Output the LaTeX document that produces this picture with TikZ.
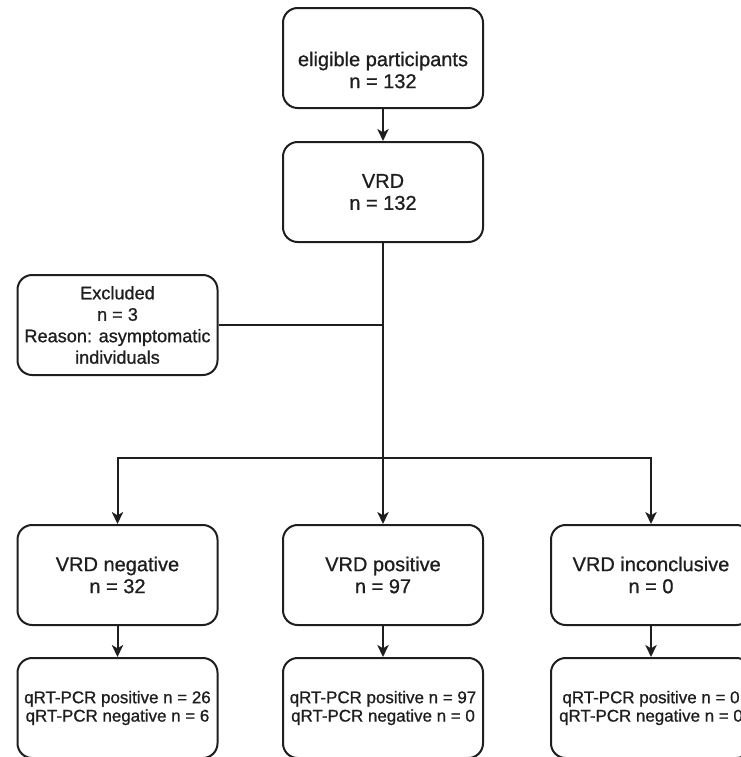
\documentclass[tikz,border=0pt]{standalone}
\usepackage{fontspec}
\setmainfont{Liberation Sans}[RawFeature={embolden=0.9}]
\usetikzlibrary{arrows.meta}
\definecolor{ink}{HTML}{1E1E1E}
\begin{document}
\begin{tikzpicture}[x=0.75pt,y=-0.75pt,
  box/.style={draw=ink, line width=1.5pt, rounded corners=11pt,
    minimum width=150pt, minimum height=75pt, inner sep=0pt,
    align=center, text=ink, font=\fontsize{15}{16.5}\selectfont},
  exclbox/.style={box, font=\fontsize{13.6}{16.1}\selectfont},
  resbox/.style={box, font=\fontsize{12.7}{13.8}\selectfont},
  conn/.style={draw=ink, line width=1.5pt},
  arr/.style={conn, -{Stealth[length=9pt,width=8.5pt,inset=2.5pt]}}]
\useasboundingbox (0,0) rectangle (741,757);
\begin{scope}
\clip (0,0) rectangle (741,757);

% enrolment and index test
\node[box, label={[yshift=-9pt, align=center, text=ink,
  font=\fontsize{15}{16.5}\selectfont]center:eligible participants\\n = 132}]
  (top) at (383,58) {};
\node[box] (vrd) at (383,192) {VRD\\n = 132};

% exclusions
\node[exclbox] (excl) at (117.5,325) {Excluded\\n = 3\\Reason: asymptomatic\\individuals};

% VRD outcomes
\node[box] (neg) at (117.5,575) {VRD negative\\n = 32};
\node[box] (pos) at (383,575) {VRD positive\\n = 97};
\node[box] (inc) at (651,575) {VRD inconclusive\\n = 0};

% reference test results
\node[resbox] (qneg) at (117.5,708) {qRT-PCR positive n = 26\\qRT-PCR negative n = 6};
\node[resbox] (qpos) at (383,708) {qRT-PCR positive n = 97\\qRT-PCR negative n = 0};
\node[resbox] (qinc) at (651,708) {qRT-PCR positive n = 0\\qRT-PCR negative n = 0};

% junction points on the main trunk
\coordinate (exj) at (383,325);
\coordinate (spl) at (383,458);

% connectors
\draw[arr] (top) -- (vrd);
\draw[arr] (vrd) -- (pos);
\draw[conn] (excl.east) -- (exj);
\draw[arr] (spl) -| (neg);
\draw[arr] (spl) -| (inc);
\draw[arr] (neg) -- (qneg);
\draw[arr] (pos) -- (qpos);
\draw[arr] (inc) -- (qinc);
\end{scope}
\end{tikzpicture}
\end{document}
